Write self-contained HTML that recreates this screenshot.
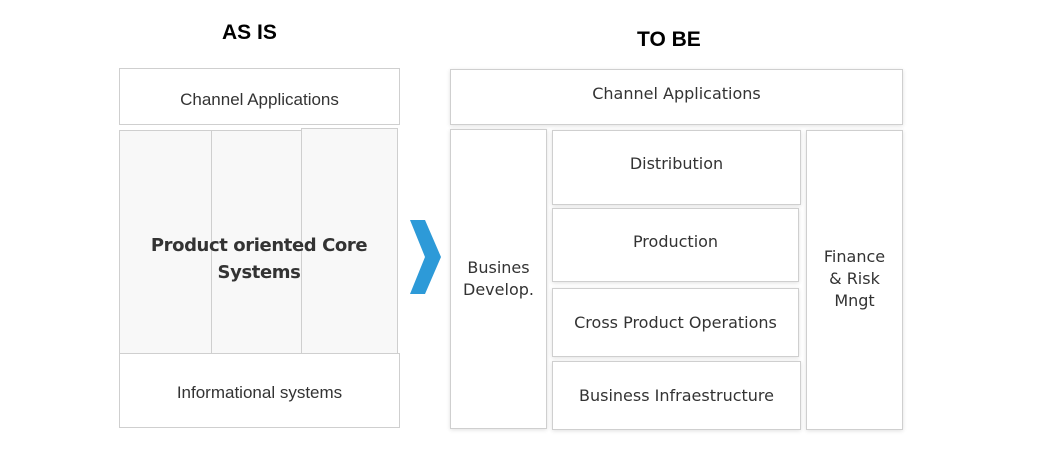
<!DOCTYPE html>
<html><head><style>
body{margin:0;width:1041px;height:454px;background:#fff;position:relative;overflow:hidden;font-family:"Liberation Sans",sans-serif;}
.b{position:absolute;box-sizing:border-box;border:1px solid #cfcfcf;background:#fff;display:flex;align-items:center;justify-content:center;text-align:center;color:#333;font-size:17px;}
.s{box-shadow:0 1px 4px rgba(0,0,0,.12);}
.g{background:#f8f8f8;}
.t{position:absolute;font-weight:bold;font-size:21px;color:#000;}
.c{font-family:"DejaVu Sans","Liberation Sans",sans-serif;font-size:16px;line-height:22px;}
</style></head><body>
<div class="t" style="left:222px;top:21px">AS IS</div>
<div class="t" style="left:637px;top:28px">TO BE</div>

<div class="b" style="left:119px;top:68px;width:281px;height:57px;padding-top:6px">Channel Applications</div>
<div class="b g" style="left:119px;top:130px;width:93px;height:224px"></div>
<div class="b g" style="left:211px;top:130px;width:91px;height:224px"></div>
<div class="b g" style="left:301px;top:128px;width:97px;height:226px"></div>
<div style="position:absolute;left:119px;top:232px;width:280px;text-align:center;font-family:'DejaVu Sans',sans-serif;font-weight:bold;font-size:18px;letter-spacing:-0.4px;line-height:27px;color:#333">Product oriented Core<br>Systems</div>
<div class="b" style="left:119px;top:353px;width:281px;height:75px;padding-top:4px">Informational systems</div>

<svg style="position:absolute;left:408px;top:218px" width="36" height="78"><polygon points="2,2 17,2 33,39 17,76 2,76 17,39" fill="#2d9ad8"/></svg>

<div class="b s c" style="left:450px;top:69px;width:453px;height:56px;padding-bottom:6px">Channel Applications</div>
<div class="b s c" style="left:450px;top:129px;width:97px;height:300px">Busines<br>Develop.</div>
<div class="b s c" style="left:552px;top:130px;width:249px;height:75px;align-items:flex-start;padding-top:22px">Distribution</div>
<div class="b s c" style="left:552px;top:208px;width:247px;height:74px;align-items:flex-start;padding-top:22px">Production</div>
<div class="b s c" style="left:552px;top:288px;width:247px;height:69px">Cross Product Operations</div>
<div class="b s c" style="left:552px;top:361px;width:249px;height:69px">Business Infraestructure</div>
<div class="b s c" style="left:806px;top:130px;width:97px;height:300px;align-items:flex-start;padding-top:115px">Finance<br>&amp; Risk<br>Mngt</div>
</body></html>
